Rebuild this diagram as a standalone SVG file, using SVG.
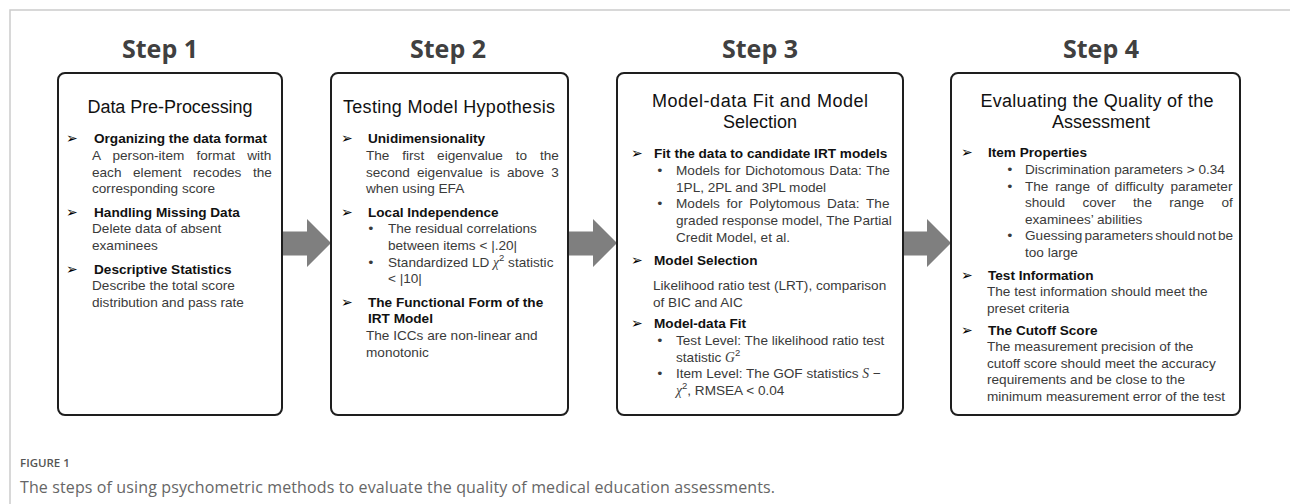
<svg xmlns="http://www.w3.org/2000/svg" width="1290" height="504" viewBox="0 0 1290 504">
  <style>
    .frame { fill: none; stroke: #cccccc; stroke-width: 1.5; }
    .box { fill: #ffffff; stroke: #1e1e1e; stroke-width: 2; }
    .step { font-family: "Open Sans", "Liberation Sans", sans-serif; font-weight: 700; font-size: 25px; fill: #404040; text-anchor: middle; }
    .title { font-family: "Liberation Sans", Arial, sans-serif; font-size: 18px; fill: #111111; text-anchor: middle; }
    .hd { font-family: "Liberation Sans", Arial, sans-serif; font-weight: 700; font-size: 13.6px; fill: #111111; }
    .tx { font-family: "Liberation Sans", Arial, sans-serif; font-size: 13.6px; fill: #3a3a3a; }
    .mk { font-family: "DejaVu Sans", sans-serif; font-size: 14px; fill: #000000; }
    .dot { font-family: "DejaVu Sans", sans-serif; font-size: 13px; fill: #3a3a3a; }
    .m { font-family: "Liberation Serif", "DejaVu Serif", serif; font-style: italic; }
    .arrow { fill: #7f7f7f; }
    .cap1 { font-family: "Open Sans", "Liberation Sans", sans-serif; font-weight: 600; font-size: 11.5px; fill: #555555; }
    .cap2 { font-family: "Open Sans", "Liberation Sans", sans-serif; font-size: 16px; fill: #666666; }
  </style>

  <!-- outer figure frame -->
  <path class="frame" d="M10,504 V10 H1290"/>

  <!-- flow arrows between the steps -->
  <g id="connectors">
    <polygon class="arrow" points="283,231.5 307,231.5 307,219 331,243 307,267 307,255.5 283,255.5"/>
    <polygon class="arrow" points="569,231.5 593,231.5 593,219 617,243 593,267 593,255.5 569,255.5"/>
    <polygon class="arrow" points="904,231.5 927,231.5 927,219 951,243 927,267 927,255.5 904,255.5"/>
  </g>

  <!-- Step 1 -->
  <g id="step1">
    <text class="step" x="160" y="58">Step 1</text>
    <rect class="box" x="58" y="73" width="224" height="342" rx="7"/>
    <text class="title" x="170" y="113" textLength="165" lengthAdjust="spacing">Data Pre-Processing</text>
    <text class="mk" x="66" y="143">➢</text>
    <text class="hd" x="94" y="143">Organizing the data format</text>
    <text class="tx" x="92" y="160" style="word-spacing:8.4px">A person-item format with</text>
    <text class="tx" x="92" y="177" style="word-spacing:7.8px">each element recodes the</text>
    <text class="tx" x="92" y="193">corresponding score</text>
    <text class="mk" x="66" y="217">➢</text>
    <text class="hd" x="94" y="217">Handling Missing Data</text>
    <text class="tx" x="92" y="233">Delete data of absent</text>
    <text class="tx" x="92" y="250">examinees</text>
    <text class="mk" x="66" y="274">➢</text>
    <text class="hd" x="94" y="274">Descriptive Statistics</text>
    <text class="tx" x="92" y="290">Describe the total score</text>
    <text class="tx" x="92" y="307">distribution and pass rate</text>
  </g>

  <!-- Step 2 -->
  <g id="step2">
    <text class="step" x="448" y="58">Step 2</text>
    <rect class="box" x="331" y="73" width="237" height="342" rx="7"/>
    <text class="title" x="449" y="113" textLength="212" lengthAdjust="spacing">Testing Model Hypothesis</text>
    <text class="mk" x="341" y="143">➢</text>
    <text class="hd" x="368" y="143">Unidimensionality</text>
    <text class="tx" x="366" y="160" style="word-spacing:9.1px">The first eigenvalue to the</text>
    <text class="tx" x="366" y="177" style="word-spacing:3.4px">second eigenvalue is above 3</text>
    <text class="tx" x="366" y="193">when using EFA</text>
    <text class="mk" x="341" y="217">➢</text>
    <text class="hd" x="368" y="217">Local Independence</text>
    <text class="dot" x="367" y="233">•</text>
    <text class="tx" x="388" y="233">The residual correlations</text>
    <text class="tx" x="388" y="250">between items &lt; |.20|</text>
    <text class="dot" x="367" y="267">•</text>
    <text class="tx" x="388" y="267">Standardized LD <tspan class="m">χ</tspan><tspan font-size="9.5" dy="-6">2</tspan><tspan dy="6"> statistic</tspan></text>
    <text class="tx" x="388" y="283">&lt; |10|</text>
    <text class="mk" x="341" y="307">➢</text>
    <text class="hd" x="368" y="307">The Functional Form of the</text>
    <text class="hd" x="368" y="323">IRT Model</text>
    <text class="tx" x="366" y="340">The ICCs are non-linear and</text>
    <text class="tx" x="366" y="357">monotonic</text>
  </g>

  <!-- Step 3 -->
  <g id="step3">
    <text class="step" x="760" y="58">Step 3</text>
    <rect class="box" x="617" y="73" width="286" height="342" rx="7"/>
    <text class="title" x="760" y="107" textLength="216" lengthAdjust="spacing">Model-data Fit and Model</text>
    <text class="title" x="760" y="128">Selection</text>
    <text class="mk" x="631" y="158">➢</text>
    <text class="hd" x="654" y="158">Fit the data to candidate IRT models</text>
    <text class="dot" x="656" y="175">•</text>
    <text class="tx" x="676" y="175" style="word-spacing:1px">Models for Dichotomous Data: The</text>
    <text class="tx" x="676" y="192">1PL, 2PL and 3PL model</text>
    <text class="dot" x="656" y="208">•</text>
    <text class="tx" x="676" y="208" style="word-spacing:3px">Models for Polytomous Data: The</text>
    <text class="tx" x="676" y="225">graded response model, The Partial</text>
    <text class="tx" x="676" y="242">Credit Model, et al.</text>
    <text class="mk" x="631" y="265">➢</text>
    <text class="hd" x="654" y="265">Model Selection</text>
    <text class="tx" x="653" y="290">Likelihood ratio test (LRT), comparison</text>
    <text class="tx" x="653" y="307">of BIC and AIC</text>
    <text class="mk" x="631" y="328">➢</text>
    <text class="hd" x="654" y="328">Model-data Fit</text>
    <text class="dot" x="656" y="345">•</text>
    <text class="tx" x="676" y="345">Test Level: The likelihood ratio test</text>
    <text class="tx" x="676" y="362">statistic <tspan class="m">G</tspan><tspan font-size="9.5" dy="-6">2</tspan></text>
    <text class="dot" x="656" y="378">•</text>
    <text class="tx" x="676" y="378">Item Level: The GOF statistics <tspan class="m">S</tspan> −</text>
    <text class="tx" x="676" y="395"><tspan class="m">χ</tspan><tspan font-size="9.5" dy="-6">2</tspan><tspan dy="6">, RMSEA &lt; 0.04</tspan></text>
  </g>

  <!-- Step 4 -->
  <g id="step4">
    <text class="step" x="1101" y="58">Step 4</text>
    <rect class="box" x="951" y="73" width="289" height="342" rx="7"/>
    <text class="title" x="1097" y="107" textLength="233" lengthAdjust="spacing">Evaluating the Quality of the</text>
    <text class="title" x="1101" y="128">Assessment</text>
    <text class="mk" x="961" y="157">➢</text>
    <text class="hd" x="988" y="157">Item Properties</text>
    <text class="dot" x="1006" y="174">•</text>
    <text class="tx" x="1025" y="174">Discrimination parameters &gt; 0.34</text>
    <text class="dot" x="1006" y="191">•</text>
    <text class="tx" x="1025" y="191" style="word-spacing:3px">The range of difficulty parameter</text>
    <text class="tx" x="1025" y="207" style="word-spacing:13.6px">should cover the range of</text>
    <text class="tx" x="1025" y="224">examinees’ abilities</text>
    <text class="dot" x="1006" y="240">•</text>
    <text class="tx" x="1025" y="240" style="word-spacing:-1.8px">Guessing parameters should not be</text>
    <text class="tx" x="1025" y="257">too large</text>
    <text class="mk" x="961" y="280">➢</text>
    <text class="hd" x="988" y="280">Test Information</text>
    <text class="tx" x="987" y="296">The test information should meet the</text>
    <text class="tx" x="987" y="313">preset criteria</text>
    <text class="mk" x="961" y="335">➢</text>
    <text class="hd" x="988" y="335">The Cutoff Score</text>
    <text class="tx" x="987" y="351">The measurement precision of the</text>
    <text class="tx" x="987" y="368">cutoff score should meet the accuracy</text>
    <text class="tx" x="987" y="384">requirements and be close to the</text>
    <text class="tx" x="987" y="401">minimum measurement error of the test</text>
  </g>

  <!-- figure caption -->
  <g id="caption">
    <text class="cap1" x="20" y="467">FIGURE 1</text>
    <text class="cap2" x="20" y="493" textLength="755" lengthAdjust="spacing">The steps of using psychometric methods to evaluate the quality of medical education assessments.</text>
  </g>
</svg>
